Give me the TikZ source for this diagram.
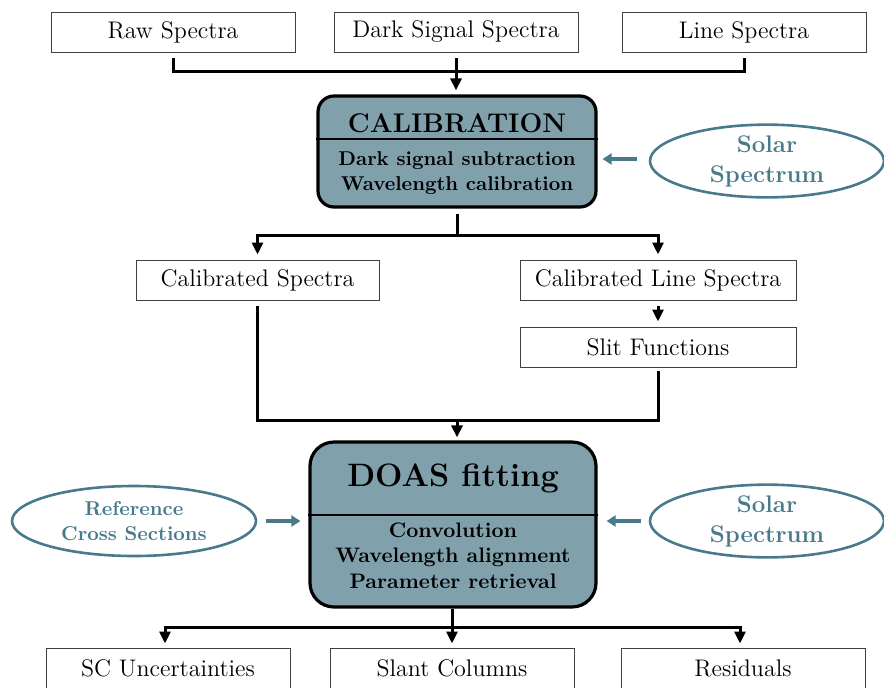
\documentclass[tikz,border=0pt]{standalone}
\usepackage{tikz}
\usetikzlibrary{arrows.meta,shapes.geometric}
\definecolor{procfill}{RGB}{128,160,172}
\definecolor{srccol}{RGB}{72,122,140}

\begin{document}
\begin{tikzpicture}[x=0.5pt,y=-0.5pt,
  font=\fontsize{12}{14}\selectfont,
  box/.style={draw=black!75, line width=0.5pt, minimum width=122pt, minimum height=20pt, inner sep=0pt},
  proc/.style={draw, line width=1.6pt, fill=procfill, rounded corners=8pt, inner sep=0pt},
  src/.style={draw=srccol, line width=1.3pt, ellipse, minimum width=117pt, minimum height=35pt, inner sep=0pt, text=srccol, font=\bfseries\fontsize{12}{15}\selectfont, align=center},
  flow/.style={line width=1.5pt},
  tip/.style={-{Triangle[length=6pt,width=5.5pt]}},
  feed/.style={draw=srccol, line width=2pt, -{Triangle[length=4.5pt,width=5.5pt]}}
]
\useasboundingbox (0,0) rectangle (884,687);

% inputs
\node[box] (raw) at (173,32) {Raw Spectra};
\node[box] (dark) at (456,32) {Dark Signal Spectra};
\node[box] (line) at (744,32) {Line Spectra};
\coordinate (j1) at (456,71);
\draw[flow] ([yshift=-2.5pt]raw.south) |- (j1);
\draw[flow] ([yshift=-2.5pt]line.south) |- (j1);

% calibration
\node[proc, minimum width=139pt, minimum height=55.5pt] (calib) at (457,151.5) {};
\draw[line width=0.8pt] (calib.west |- 0,139) -- (calib.east |- 0,139);
\node[font=\bfseries\fontsize{13.5}{16}\selectfont] (calibt) at (457,123) {CALIBRATION};
\node[font=\bfseries\fontsize{10}{12.5}\selectfont, align=center] (calibs) at (457,173.5) {Dark signal subtraction\\Wavelength calibration};
\draw[flow,tip,shorten <=2.5pt,shorten >=2pt] (dark.south) -- (dark.south |- calib.north);
\node[src] (solar1) at (767,161) {Solar\\Spectrum};
\draw[feed,shorten <=6pt,shorten >=2.5pt] (solar1.west |- 0,159) -- (calib.east |- 0,159);

% calibrated
\node[box, minimum width=121.5pt] (cspec) at (257.5,280) {Calibrated Spectra};
\node[box, minimum width=138pt] (clspec) at (658,280) {Calibrated Line Spectra};
\node[box, minimum width=138pt] (slit) at (658,347) {Slit Functions};
\coordinate (j2) at (457,235);
\draw[flow,shorten <=2.5pt] (calib.south) -- (j2);
\draw[flow,tip,shorten >=2.5pt] (j2) -| (cspec.north);
\draw[flow,tip,shorten >=2.5pt] (j2) -| (clspec.north);
\draw[flow,tip,shorten <=2.5pt,shorten >=2.5pt] (clspec) -- (slit);
\coordinate (j3) at (457,420);
\draw[flow] ([yshift=-2.5pt]cspec.south) |- (j3) -| ([yshift=-1.5pt]slit.south);

% doas
\node[proc, rounded corners=12pt, minimum width=143pt, minimum height=82.5pt] (doas) at (453,524.5) {};
\draw[line width=0.8pt] (doas.west |- 0,515) -- (doas.east |- 0,515);
\node[font=\bfseries\fontsize{16.2}{19}\selectfont] (doast) at (453,478) {DOAS fitting};
\node[font=\bfseries\fontsize{10.5}{12.7}\selectfont, align=center] (doass) at (453,555.5) {Convolution\\Wavelength alignment\\Parameter retrieval};
\draw[flow,tip,shorten >=1.5pt] (j3) -- (j3 |- doas.north);
\node[src, minimum width=122pt, font=\bfseries\fontsize{10}{12.3}\selectfont] (refcs) at (134,521) {Reference\\Cross Sections};
\node[src] (solar2) at (767,521) {Solar\\Spectrum};
\draw[feed,shorten <=4.5pt,shorten >=4pt] (refcs.east) -- (refcs.east -| doas.west);
\draw[feed,shorten <=4pt,shorten >=4.5pt] (solar2.west) -- (solar2.west -| doas.east);

% outputs
\node[box] (scunc) at (168,668) {SC Uncertainties};
\node[box] (slant) at (452,668) {Slant Columns};
\node[box] (resid) at (743,668) {Residuals};
\coordinate (j4) at (452,627);
\draw[flow] (doas.south -| j4) -- (j4);
\draw[flow,tip,shorten >=2pt] (j4) -| ([xshift=-1.5pt]scunc.north);
\draw[flow,tip,shorten >=2pt] (j4) -- (slant.north);
\draw[flow,tip,shorten >=2pt] (j4) -| ([xshift=-1.5pt]resid.north);
\end{tikzpicture}
\end{document}
